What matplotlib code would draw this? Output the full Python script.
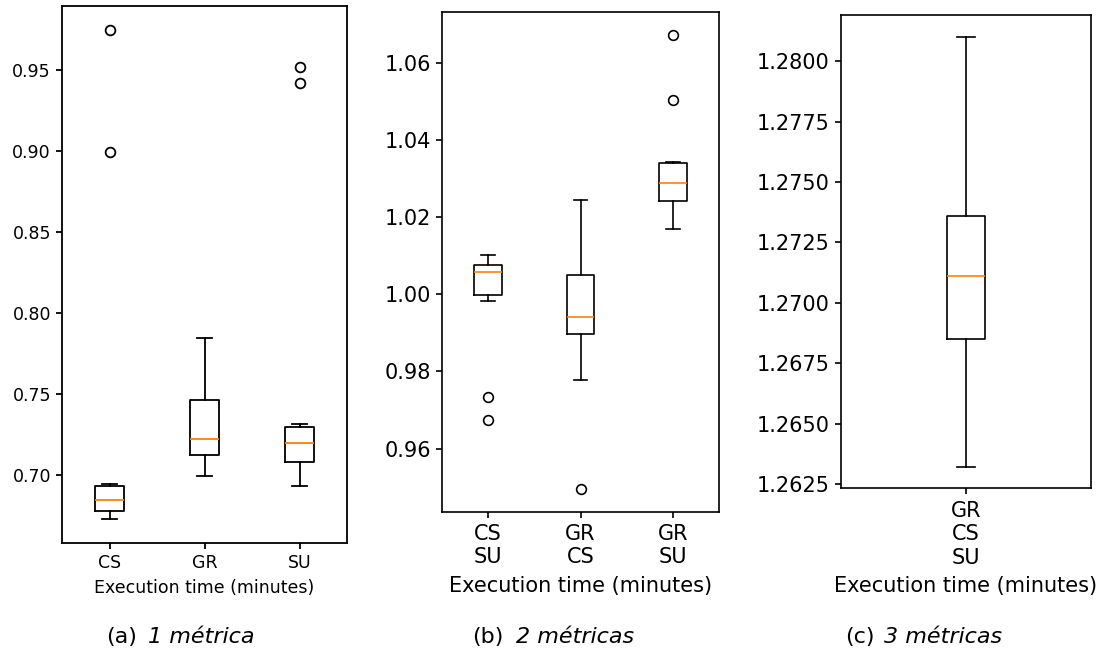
import matplotlib
matplotlib.use("Agg")
import matplotlib.pyplot as plt

# box statistics (execution time, minutes)
labels_1 = ["CS", "GR", "SU"]
med_1 = [0.6848, 0.7221, 0.7199]
q1_1 = [0.6777, 0.7127, 0.7080]
q3_1 = [0.6935, 0.7463, 0.7299]
lo_1 = [0.6732, 0.6994, 0.6932]
hi_1 = [0.6945, 0.7846, 0.7318]
fliers_1 = [[0.9743, 0.8991], [], [0.9520, 0.9416]]

labels_2 = ["CS\nSU", "GR\nCS", "GR\nSU"]
med_2 = [1.00573, 0.99409, 1.02883]
q1_2 = [0.99980, 0.98984, 1.02422]
q3_2 = [1.00755, 1.00513, 1.03411]
lo_2 = [0.99818, 0.97784, 1.01685]
hi_2 = [1.01023, 1.02440, 1.03430]
fliers_2 = [[0.97333, 0.96750], [0.94943], [1.06737, 1.05044]]

labels_3 = ["GR\nCS\nSU"]
med_3 = [1.27112]
q1_3 = [1.26851]
q3_3 = [1.27360]
lo_3 = [1.26323]
hi_3 = [1.28102]
fliers_3 = [[]]

captions = [("(a)", "1 métrica"), ("(b)", "2 métricas"), ("(c)", "3 métricas")]


def make_stats(labels, med, q1, q3, lo, hi, fliers):
    return [dict(label=l, med=m, q1=a, q3=b, whislo=w0, whishi=w1, fliers=f)
            for l, m, a, b, w0, w1, f in zip(labels, med, q1, q3, lo, hi, fliers)]


# stats, axes box in pixels, font size, line width, xlabel pad, xtick pad
panels = [
    (make_stats(labels_1, med_1, q1_1, q3_1, lo_1, hi_1, fliers_1),
     [62, 6, 347, 543], 12.5, 1.3, 5.0, 3.5),
    (make_stats(labels_2, med_2, q1_2, q3_2, lo_2, hi_2, fliers_2),
     [442, 12, 719, 512], 15, 1.2, 6.5, 4.3),
    (make_stats(labels_3, med_3, q1_3, q3_3, lo_3, hi_3, fliers_3),
     [841, 15, 1091, 488], 15, 1.2, 6.0, 5.0),
]

W, H = 1105, 659
fig = plt.figure(figsize=(W / 100, H / 100), dpi=100)

for stats, (x0, y0, x1, y1), fs, lw, pad, tpad in panels:
    ax = fig.add_axes([x0 / W, 1 - y1 / H, (x1 - x0) / W, (y1 - y0) / H])
    ax.bxp(stats,
           boxprops=dict(linewidth=lw, color="black"),
           whiskerprops=dict(linewidth=lw, color="black"),
           capprops=dict(linewidth=lw, color="black"),
           medianprops=dict(linewidth=lw, color="#ff7f0e"),
           flierprops=dict(marker="o", markersize=7, markerfacecolor="none",
                           markeredgecolor="black", markeredgewidth=lw))
    ax.tick_params(labelsize=fs, width=lw, length=4.5)
    ax.tick_params(axis="x", pad=tpad)
    for s in ax.spines.values():
        s.set_linewidth(lw)
    ax.set_xlabel("Execution time (minutes)", fontsize=fs, labelpad=pad)

# sub-figure captions
tag_right = [137, 504, 875]
name_left = [148, 516, 884]
for (tag, name), xr, xl in zip(captions, tag_right, name_left):
    fig.text(xr / W, 1 - 637 / H, tag, ha="right", va="center", fontsize=16)
    fig.text(xl / W, 1 - 637 / H, name, ha="left", va="center", fontsize=16,
             style="italic")

fig.savefig("out.png", dpi=100)
